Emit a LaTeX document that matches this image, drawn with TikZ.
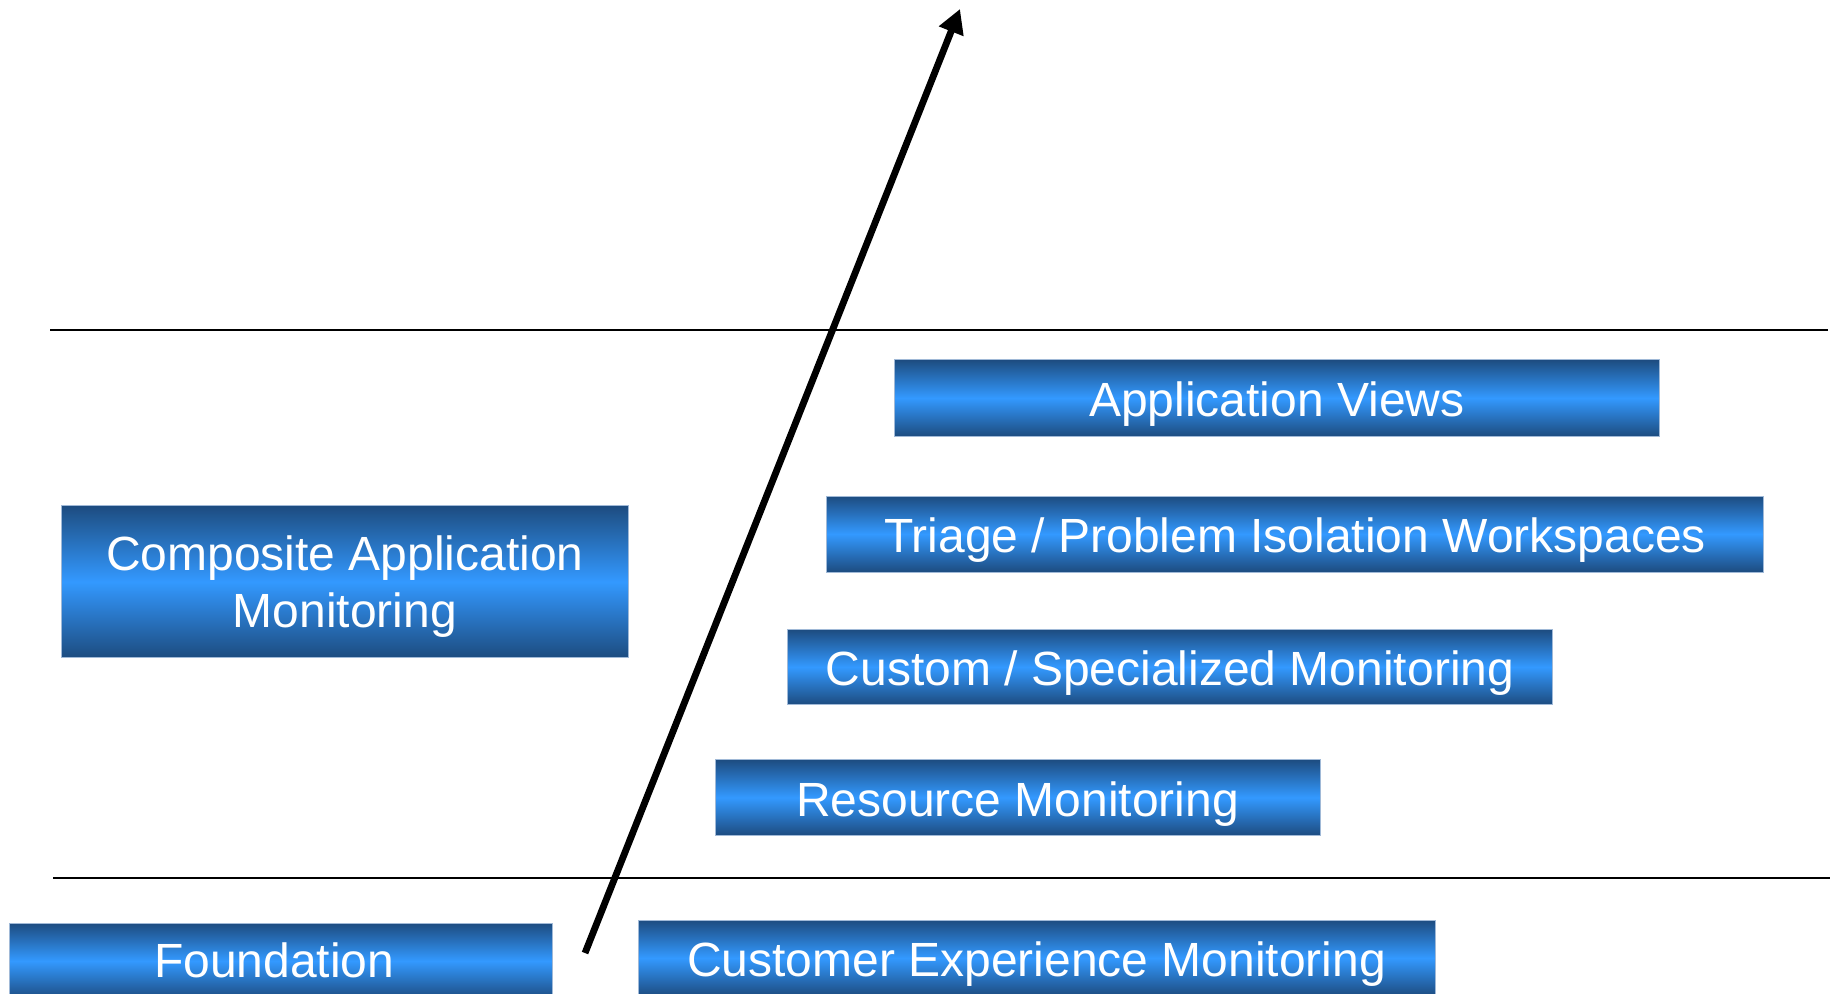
\documentclass[tikz,border=0pt]{standalone}
\usepackage{fontspec}
\setmainfont{Liberation Sans}
\usetikzlibrary{arrows.meta}
\definecolor{barDark}{RGB}{29,76,128}
\definecolor{barLight}{RGB}{51,153,255}
\definecolor{barEdge}{RGB}{160,185,215}
\tikzset{
  bar/.style={rectangle, inner sep=0pt, top color=barDark, bottom color=barDark,
    middle color=barLight, draw=barEdge, line width=0.4pt, text=white,
    font=\fontsize{24}{28.5}\selectfont, align=center,
    text height=18.8pt, text depth=0pt},
  divider/.style={line width=0.9pt, black},
  trend/.style={line width=3.4pt, black, -{Triangle[length=12pt,width=12.5pt]}}
}
\begin{document}
\begin{tikzpicture}[x=0.5pt,y=-0.5pt]
  \useasboundingbox (0,0) rectangle (1835,993);
  \clip (0,0) rectangle (1835,993);

  % horizontal dividers
  \coordinate (topL) at (50,330);
  \coordinate (topR) at (1828,330);
  \coordinate (botL) at (53,878);
  \coordinate (botR) at (1830,878);
  \draw[divider] (topL) -- (topR);
  \draw[divider] (botL) -- (botR);

  % stacked bars
  \node[bar, minimum width=382.75pt, minimum height=38.25pt] (views) at (1276.75,398) {Application Views};
  \node[bar, minimum width=468.5pt, minimum height=38pt] (triage) at (1295,534) {Triage / Problem Isolation Workspaces};
  \node[bar, minimum width=382.75pt, minimum height=37.5pt] (custom) at (1170,667) {Custom / Specialized Monitoring};
  \node[bar, minimum width=302.5pt, minimum height=38pt] (resource) at (1017.5,797.5) {Resource Monitoring};
  \node[bar, minimum width=283.25pt, minimum height=76pt, text height=46.1pt] (composite) at (345,581.6) {Composite Application\\Monitoring};
  \node[bar, minimum width=271.5pt, minimum height=38pt, text height=16.4pt] (foundation) at (280.5,961) {Foundation\hspace*{6.4pt}};
  \node[bar, minimum width=398.5pt, minimum height=38pt] (customer) at (1036.5,958) {Customer Experience Monitoring};

  % rising arrow
  \coordinate (tail) at (585,953);
  \coordinate (tip) at (960,9);
  \draw[trend] (tail) -- (tip);
\end{tikzpicture}
\end{document}
